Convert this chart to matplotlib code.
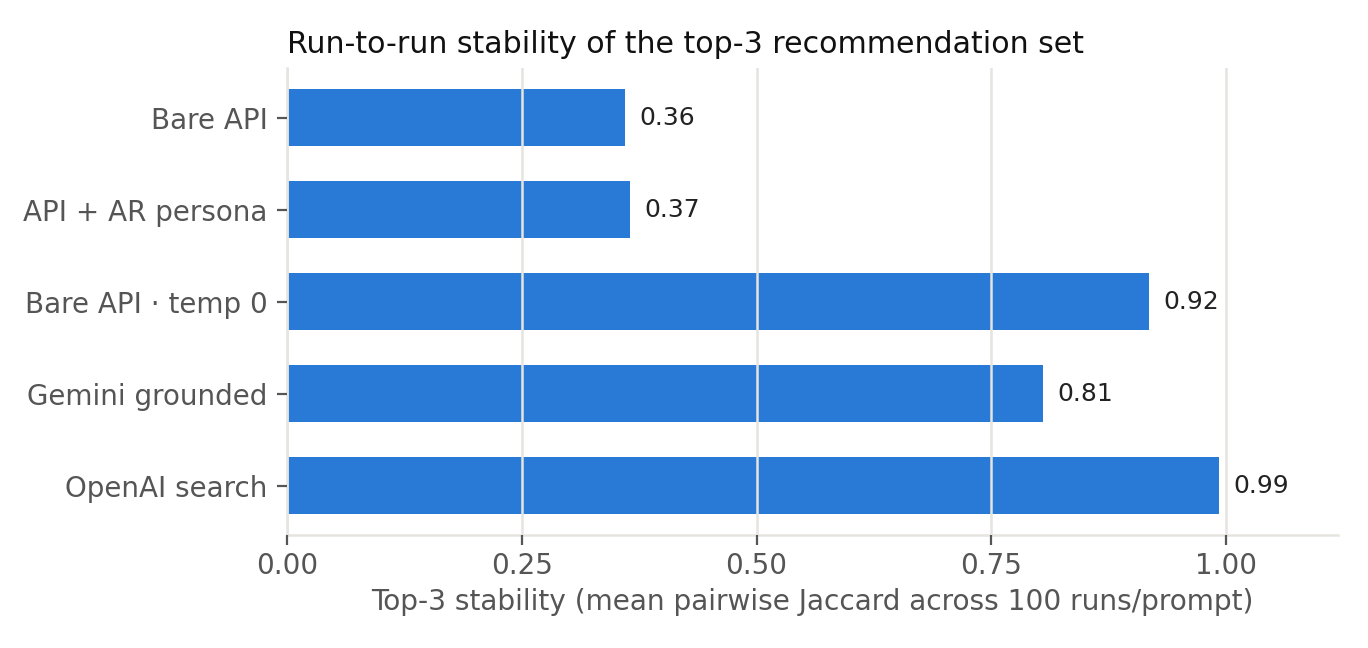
import matplotlib.pyplot as plt

labels = ["Bare API", "API + AR persona", "Bare API \u00b7 temp 0", "Gemini grounded", "OpenAI search"]
values = [0.36, 0.365, 0.918, 0.805, 0.9925]
value_text = ["0.36", "0.37", "0.92", "0.81", "0.99"]
xticks = [0.0, 0.25, 0.5, 0.75, 1.0]

bar_color = "#2979d6"
grid_color = "#e6e4df"
text_gray = "#555555"

fig = plt.figure(figsize=(6.84, 3.24), dpi=200)
ax = fig.add_axes([0.2098, 0.174, 0.7682, 0.721])

ypos = list(range(len(labels)))
ax.barh(ypos, values, height=0.62, color=bar_color, zorder=1)
for y, v, t in zip(ypos, values, value_text):
    ax.text(v + 0.015, y, t, va="center", ha="left", fontsize=9, color="#222222")

ax.set_yticks(ypos)
ax.set_yticklabels(labels)
ax.invert_yaxis()
ax.set_xlim(0, 1.119)
ax.set_xticks(xticks)
ax.set_xticklabels(["%.2f" % x for x in xticks])

ax.grid(axis="x", color=grid_color, linewidth=0.9, zorder=2)
ax.set_axisbelow(False)
for s in ["top", "right"]:
    ax.spines[s].set_visible(False)
for s in ["left", "bottom"]:
    ax.spines[s].set_color(grid_color)
    ax.spines[s].set_linewidth(0.9)

ax.tick_params(axis="both", colors=text_gray, labelsize=10, length=3.5, width=0.8)
ax.tick_params(axis="x", pad=2.5)
ax.set_xlabel("Top-3 stability (mean pairwise Jaccard across 100 runs/prompt)",
              fontsize=10.1, color=text_gray, labelpad=3)
ax.set_title("Run-to-run stability of the top-3 recommendation set",
             loc="left", fontsize=10.8, color="#111111", pad=5.5)

fig.savefig("out.png", dpi=200)
